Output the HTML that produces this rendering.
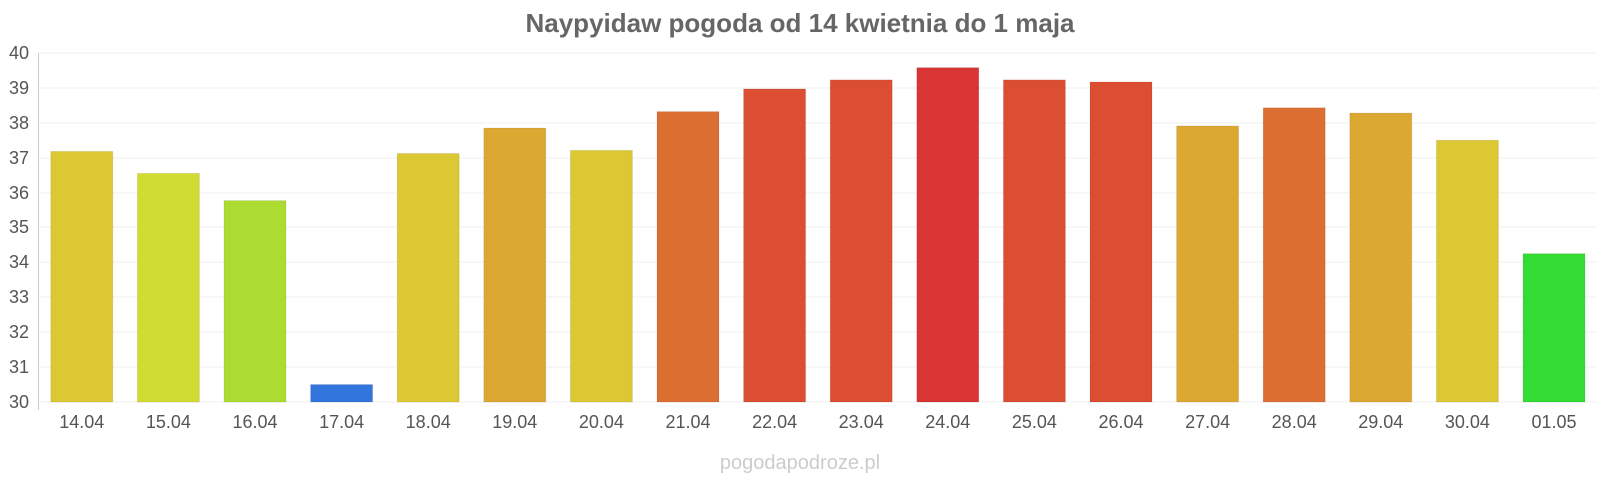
<!DOCTYPE html>
<html><head><meta charset="utf-8"><style>
body{margin:0;background:#fff;}
svg{display:block;font-family:"Liberation Sans",sans-serif;}
</style></head><body>
<svg width="1600" height="480" xmlns="http://www.w3.org/2000/svg">
<text x="800" y="32" text-anchor="middle" font-size="26" font-weight="bold" fill="#666">Naypyidaw pogoda od 14 kwietnia do 1 maja</text>
<g stroke="#efefef" stroke-width="1">
<line x1="38" x2="1597" y1="53" y2="53"/><line x1="38" x2="1597" y1="88" y2="88"/><line x1="38" x2="1597" y1="123" y2="123"/><line x1="38" x2="1597" y1="158" y2="158"/><line x1="38" x2="1597" y1="193" y2="193"/><line x1="38" x2="1597" y1="227" y2="227"/><line x1="38" x2="1597" y1="262" y2="262"/><line x1="38" x2="1597" y1="297" y2="297"/><line x1="38" x2="1597" y1="332" y2="332"/><line x1="38" x2="1597" y1="367" y2="367"/><line x1="38" x2="1597" y1="402" y2="402"/>
</g>
<line x1="38.5" x2="38.5" y1="53" y2="410" stroke="#ccc"/>
<g font-size="18" fill="#555" text-anchor="end">
<text x="29" y="59">40</text><text x="29" y="94">39</text><text x="29" y="129">38</text><text x="29" y="164">37</text><text x="29" y="199">36</text><text x="29" y="233">35</text><text x="29" y="268">34</text><text x="29" y="303">33</text><text x="29" y="338">32</text><text x="29" y="373">31</text><text x="29" y="408">30</text>
</g>
<g id="bars"></g>
<g id="labels" font-size="18" fill="#555" text-anchor="middle"></g>
<text x="800" y="469" text-anchor="middle" font-size="20" fill="#ccc">pogodapodroze.pl</text>
</svg>
<script>
var d=[["14.04",7.18,"#dbc832"],["15.04",6.55,"#d0dc32"],["16.04",5.77,"#acdc32"],["17.04",0.5,"#3275dc"],["18.04",7.12,"#dbc832"],["19.04",7.85,"#dba832"],["20.04",7.21,"#dbc832"],["21.04",8.32,"#dc6e32"],["22.04",8.97,"#dc4e32"],["23.04",9.23,"#dc4e32"],["24.04",9.58,"#d93535"],["25.04",9.23,"#dc4e32"],["26.04",9.17,"#dc4e32"],["27.04",7.91,"#dba832"],["28.04",8.43,"#dc6e32"],["29.04",8.28,"#dba832"],["30.04",7.5,"#dbc832"],["01.05",4.25,"#34dc34"]];
var ns="http://www.w3.org/2000/svg",b=document.getElementById("bars"),l=document.getElementById("labels");
d.forEach(function(e,i){var x=38.5+i*86.6+12.3,h=e[1]*34.9;
var r=document.createElementNS(ns,"rect");r.setAttribute("x",x);r.setAttribute("y",402-h);r.setAttribute("width",62);r.setAttribute("height",h);r.setAttribute("fill",e[2]);r.setAttribute("stroke","rgba(0,0,0,0.08)");b.appendChild(r);
var t=document.createElementNS(ns,"text");t.setAttribute("x",x+31);t.setAttribute("y",428);t.textContent=e[0];l.appendChild(t);});
</script>
</body></html>
